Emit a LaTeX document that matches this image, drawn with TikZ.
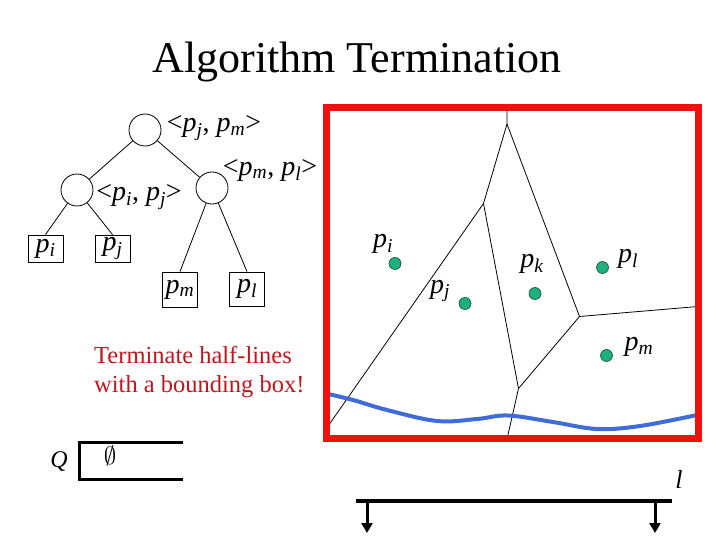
\documentclass[tikz,border=0pt]{standalone}
\usepackage{fontspec}
\setmainfont{Liberation Serif}
\usetikzlibrary{arrows.meta}
\definecolor{siteGreen}{HTML}{1DB07F}
\definecolor{siteEdge}{HTML}{1A4A3A}
\definecolor{boxRed}{HTML}{F01010}
\definecolor{noteRed}{HTML}{C0161E}
\definecolor{curveBlue}{HTML}{3F6CD8}
\newcommand{\pv}[1]{\textit{p}\textsubscript{\textit{#1}}}
\begin{document}
\begin{tikzpicture}[x=1pt,y=-1pt,
  inode/.style={circle,draw,line width=0.8pt,minimum size=32pt,inner sep=0},
  leaf/.style={draw,line width=0.8pt,minimum width=35pt,inner sep=0,font=\fontsize{28}{30}\selectfont},
  lbl/.style={inner sep=0,font=\fontsize{28}{30}\selectfont},
  site/.style={circle,draw=siteEdge,line width=0.6pt,fill=siteGreen,minimum size=12pt,inner sep=0},
  tedge/.style={line width=0.8pt},
  vedge/.style={line width=0.8pt},
  ptr/.style={line width=3pt,-{Triangle[width=11pt,length=10pt]}}]
\useasboundingbox (0,0) rectangle (720,540);
% title
\node[font=\fontsize{44}{48}\selectfont,inner sep=0] (title) at (357,62) {Algorithm Termination};
% tree
\node[inode] (root) at (145,130) {};
\node[inode] (lc) at (77,190) {};
\node[inode] (rc) at (212,188) {};
\node[leaf,minimum height=27pt] (li) at (45.5,248.5) {\pv{i}};
\node[leaf,minimum height=27pt] (lj) at (112.5,248.5) {\pv{j}};
\node[leaf,minimum height=35pt] (lm) at (180,289.5) {\pv{m}};
\node[leaf,minimum height=34pt] (ll) at (247,289) {\pv{l}};
\node[lbl] (rootlbl) at (214,128) {<\pv{j}, \pv{m}>};
\node[lbl] (lclbl) at (139,197) {<\pv{i}, \pv{j}>};
\node[lbl] (rclbl) at (270,170) {<\pv{m}, \pv{l}>};
\draw[tedge] (root) -- (lc);
\draw[tedge] (root) -- (rc);
\draw[tedge] (lc) -- (li.north);
\draw[tedge] (lc) -- (lj.north);
\draw[tedge] (rc) -- (lm.north);
\draw[tedge] (rc) -- (ll.north);
% note
\node[font=\fontsize{24.5}{28.5}\selectfont,text=noteRed,align=left,anchor=west,inner sep=0] (note) at (94,372) {Terminate half-lines\\with a bounding box!};
% Q
\node[font=\fontsize{24}{26}\selectfont\itshape,inner sep=0] (Q) at (59,461) {Q};
\draw[line width=3pt] (183,442) -- (79,442) -- (79,479) -- (183,479);
\node[font=\fontsize{24}{26}\selectfont,inner sep=0] (empty) at (110,456) {$\emptyset$};
% voronoi
\coordinate (vt) at (507,107);
\coordinate (A) at (507,124);
\coordinate (B) at (483.5,203.5);
\coordinate (C) at (579.5,316.5);
\coordinate (D) at (518.5,388.5);
\coordinate (vl) at (326,429);
\coordinate (vb) at (507,439);
\coordinate (vr) at (698,306.5);
\draw[vedge] (vt) -- (A) -- (B) -- (vl);
\draw[vedge] (A) -- (C) -- (vr);
\draw[vedge] (B) -- (D) -- (vb);
\draw[vedge] (D) -- (C);
% blue curve
\draw[curveBlue,line width=4pt] plot[smooth,tension=0.6] coordinates {(326,393.5) (353,400) (387,410) (437,421) (477,419) (508,415.5) (553,422) (597,429) (640,426) (697,415)};
% red box
\draw[boxRed,line width=7pt] (326.5,107.5) rectangle (698.5,438.5);
% sites
\node[site] (si) at (395,263.5) {};
\node[site] (sj) at (465,303.5) {};
\node[site] (sk) at (535,293.5) {};
\node[site] (sl) at (602.5,267.5) {};
\node[site] (sm) at (606.5,355.5) {};
\node[lbl] (ti) at (383,244) {\pv{i}};
\node[lbl] (tj) at (440,291) {\pv{j}};
\node[lbl] (tk) at (532,264) {\pv{k}};
\node[lbl] (tl) at (628,259) {\pv{l}};
\node[lbl] (tm) at (639,347) {\pv{m}};
% bottom line
\coordinate (bl) at (356,501);
\coordinate (br) at (672,501);
\coordinate (a1s) at (367,503);
\coordinate (a1e) at (367,533);
\coordinate (a2s) at (655,503);
\coordinate (a2e) at (655,533);
\draw[line width=4pt] (bl) -- (br);
\draw[ptr] (a1s) -- (a1e);
\draw[ptr] (a2s) -- (a2e);
\node[font=\fontsize{26}{28}\selectfont\itshape,inner sep=0] (lname) at (679,479) {l};
\end{tikzpicture}
\end{document}
